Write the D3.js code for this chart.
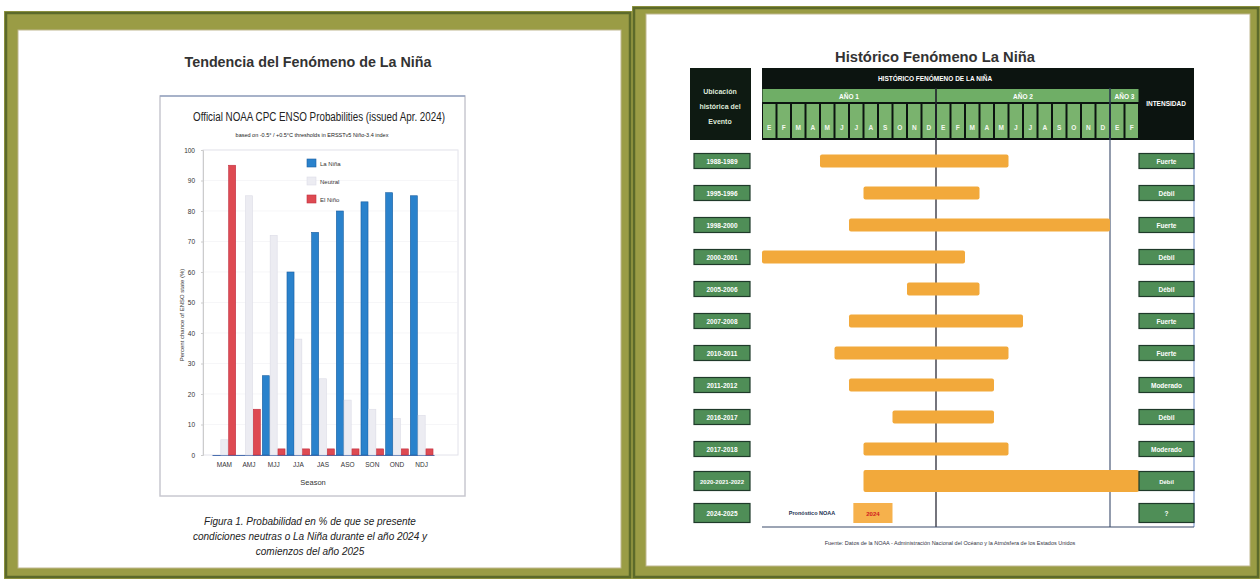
<!DOCTYPE html>
<html>
<head>
<meta charset="utf-8">
<script src="https://cdn.jsdelivr.net/npm/d3@7"></script>
<style>
  body { margin: 0; background: #fff; }
  svg { display: block; font-family: "Liberation Sans", Arial, sans-serif; }
</style>
</head>
<body>
<svg id="chart" width="1260" height="581"></svg>
<script>
// ---- left chart data (CPC ENSO probabilities, issued Apr. 2024)
const seasons = ["MAM", "AMJ", "MJJ", "JJA", "JAS", "ASO", "SON", "OND", "NDJ"];
const seriesNames = ["La Niña", "Neutral", "El Niño"];
const laNina  = [0, 0, 26, 60, 73, 80, 83, 86, 85];
const neutral = [5, 85, 72, 38, 25, 18, 15, 12, 13];
const elNino  = [95, 15, 2, 2, 2, 2, 2, 2, 2];
const yTicks  = [0, 10, 20, 30, 40, 50, 60, 70, 80, 90, 100];

// ---- right chart data (historical La Niña events, months from Jan of year 1)
const events      = ["1988-1989", "1995-1996", "1998-2000", "2000-2001", "2005-2006", "2007-2008",
                     "2010-2011", "2011-2012", "2016-2017", "2017-2018", "2020-2021-2022", "2024-2025"];
const eventStart  = [4, 7, 6, 0, 10, 6, 5, 6, 9, 7, 7, 6.3];
const eventEnd    = [17, 15, 24, 14, 15, 18, 17, 16, 16, 17, 26, 9];
const intensities = ["Fuerte", "Débil", "Fuerte", "Débil", "Débil", "Fuerte", "Fuerte", "Moderado",
                     "Débil", "Moderado", "Débil", "?"];
const monthLetters = ["E","F","M","A","M","J","J","A","S","O","N","D",
                      "E","F","M","A","M","J","J","A","S","O","N","D","E","F"];
const yearNames = ["AÑO 1", "AÑO 2", "AÑO 3"];
const yearStarts = [0, 12, 24];
const yearEnds = [12, 24, 26];

const svg = d3.select("#chart");

// frames
function panel(x, y, w, h, ix, iy, iw, ih) {
    svg.append("rect").attr("x", x).attr("y", y).attr("width", w).attr("height", h)
        .attr("fill", "#9a9c45");
    svg.append("rect").attr("x", x + 2).attr("y", y + 2).attr("width", w - 4).attr("height", h - 4)
        .attr("fill", "none").attr("stroke", "#5c6a2a").attr("stroke-width", 2.5);
    svg.append("rect").attr("x", ix).attr("y", iy).attr("width", iw).attr("height", ih)
        .attr("fill", "#fff").attr("stroke", "#c0b890").attr("stroke-width", 1);
}
panel(4, 11, 628, 568, 18, 30, 603, 538);
panel(632, 6, 628, 573, 646, 14, 604, 552);

// ================= LEFT =================
svg.append("text").attr("x", 308).attr("y", 67).attr("text-anchor", "middle")
    .attr("font-size", 15).attr("fill", "#333").attr("font-weight", "bold")
    .attr("textLength", 247).attr("lengthAdjust", "spacingAndGlyphs")
    .text("Tendencia del Fenómeno de La Niña");

// chart image frame
svg.append("rect").attr("x", 160).attr("y", 96).attr("width", 305).attr("height", 400)
    .attr("fill", "#fff").attr("stroke", "#c8c8d0").attr("stroke-width", 1.5);
svg.append("line").attr("x1", 160).attr("x2", 465).attr("y1", 96).attr("y2", 96)
    .attr("stroke", "#7a90b8").attr("stroke-width", 1.2);

svg.append("text").attr("x", 319).attr("y", 121).attr("text-anchor", "middle")
    .attr("font-size", 12.5).attr("fill", "#222")
    .attr("textLength", 252).attr("lengthAdjust", "spacingAndGlyphs")
    .text("Official NOAA CPC ENSO Probabilities (issued Apr. 2024)");
svg.append("text").attr("x", 312).attr("y", 137).attr("text-anchor", "middle")
    .attr("font-size", 5.5).attr("fill", "#222")
    .text("based on -0.5° / +0.5°C thresholds in ERSSTv5 Niño-3.4 index");

const x0 = d3.scaleBand().domain(seasons).range([212, 434]);
const x1 = d3.scaleBand().domain(seriesNames).range([x0.bandwidth() * 0.04, x0.bandwidth() * 0.96]).paddingInner(0.1);
const y = d3.scaleLinear().domain([0, 100]).range([455, 150]);

// plot frame
svg.append("rect").attr("x", 203).attr("y", 150).attr("width", 255).attr("height", 305)
    .attr("fill", "none").attr("stroke", "#e2e2ea").attr("stroke-width", 1);
svg.append("g").selectAll("line").data(yTicks.slice(1)).join("line")
    .attr("x1", 203).attr("x2", 458).attr("y1", d => y(d)).attr("y2", d => y(d))
    .attr("stroke", "#f0f0f4").attr("stroke-width", 0.6);

const yAxis = svg.append("g").attr("transform", "translate(203,0)")
    .call(d3.axisLeft(y).tickValues(yTicks).tickSize(2).tickPadding(6));
yAxis.select(".domain").attr("stroke", "#ccc");
yAxis.selectAll("text").attr("font-size", 6.5).attr("fill", "#333");
yAxis.selectAll(".tick line").attr("stroke", "#ccc");

const xAxis = svg.append("g").attr("transform", "translate(0,455)")
    .call(d3.axisBottom(x0).tickSize(0).tickPadding(7));
xAxis.select(".domain").attr("stroke", "#4a6fb0").attr("stroke-width", 1.2);
xAxis.selectAll("text").attr("font-size", 6.5).attr("fill", "#333");

svg.append("text").attr("x", 313).attr("y", 485).attr("text-anchor", "middle")
    .attr("font-size", 7.5).attr("fill", "#333").text("Season");
svg.append("text").attr("transform", "translate(184,315) rotate(-90)").attr("text-anchor", "middle")
    .attr("font-size", 6).attr("fill", "#333").text("Percent chance of ENSO state (%)");

const colors = { "La Niña": "#2a82cc", "Neutral": "#ececf2", "El Niño": "#de4a52" };
const strokes = { "La Niña": "#1b5fa0", "Neutral": "#dcdce6", "El Niño": "#c03040" };
const barRows = seasons.map((s, i) => ({ season: s, values: [laNina[i], neutral[i], elNino[i]] }));
svg.append("g").selectAll("g").data(barRows).join("g")
    .attr("transform", d => `translate(${x0(d.season)},0)`)
    .selectAll("rect").data(d => seriesNames.map((n, k) => ({ name: n, value: d.values[k] }))).join("rect")
    .attr("x", d => x1(d.name)).attr("width", x1.bandwidth())
    .attr("y", d => y(d.value)).attr("height", d => y(0) - y(d.value))
    .attr("fill", d => colors[d.name]).attr("stroke", d => strokes[d.name]).attr("stroke-width", 0.6);

// legend
const legend = svg.append("g").attr("transform", "translate(307,159)");
seriesNames.forEach((n, i) => {
    legend.append("rect").attr("x", 0).attr("y", i * 18).attr("width", 9).attr("height", 8)
        .attr("fill", colors[n]).attr("stroke", strokes[n]).attr("stroke-width", 0.6);
    legend.append("text").attr("x", 13).attr("y", i * 18 + 7).attr("font-size", 6).attr("fill", "#333").text(n);
});

// caption
const caption = ["Figura 1. Probabilidad en % de que se presente",
                 "condiciones neutras  o  La Niña durante el año 2024 y",
                 "comienzos del año 2025"];
svg.append("g").selectAll("text").data(caption).join("text")
    .attr("x", 310).attr("y", (d, i) => 525 + i * 15).attr("text-anchor", "middle")
    .attr("font-size", 10).attr("font-style", "italic").attr("fill", "#222")
    .text(d => d);

// ================= RIGHT =================
svg.append("text").attr("x", 935).attr("y", 62).attr("text-anchor", "middle")
    .attr("font-size", 15).attr("font-weight", "bold").attr("fill", "#333")
    .attr("textLength", 200).attr("lengthAdjust", "spacingAndGlyphs")
    .text("Histórico Fenómeno La Niña");

const xm = d3.scaleLinear().domain([0, 26]).range([762, 1139]);
const yr = d3.scaleBand().domain(events).range([145, 529]);

// header blocks
svg.append("rect").attr("x", 690).attr("y", 68).attr("width", 61).attr("height", 72).attr("fill", "#0e1a12");
["Ubicación", "histórica del", "Evento"].forEach((t, i) => {
    svg.append("text").attr("x", 720).attr("y", 94 + i * 15).attr("text-anchor", "middle")
        .attr("font-size", 7).attr("font-weight", "bold").attr("fill", "#dfe9d8").text(t);
});
svg.append("rect").attr("x", 762).attr("y", 68).attr("width", 432).attr("height", 72).attr("fill", "#0c1410");
svg.append("text").attr("x", 935).attr("y", 81).attr("text-anchor", "middle")
    .attr("font-size", 6.5).attr("font-weight", "bold").attr("fill", "#fff")
    .text("HISTÓRICO FENÓMENO  DE LA NIÑA");
svg.append("text").attr("x", 1166).attr("y", 106).attr("text-anchor", "middle")
    .attr("font-size", 6.5).attr("font-weight", "bold").attr("fill", "#fff").text("INTENSIDAD");

const years = yearNames.map((n, i) => ({ name: n, s: yearStarts[i], e: yearEnds[i] }));
svg.append("g").selectAll("rect").data(years).join("rect")
    .attr("x", d => xm(d.s) + 0.5).attr("y", 89).attr("width", d => xm(d.e) - xm(d.s) - 1).attr("height", 13)
    .attr("fill", "#6fae66");
svg.append("g").selectAll("text").data(years).join("text")
    .attr("x", d => (xm(d.s) + xm(d.e)) / 2).attr("y", 98.5).attr("text-anchor", "middle")
    .attr("font-size", 6.5).attr("font-weight", "bold").attr("fill", "#fff").text(d => d.name);

svg.append("g").selectAll("rect").data(monthLetters).join("rect")
    .attr("x", (d, i) => xm(i) + 1).attr("y", 104).attr("width", xm(1) - xm(0) - 2).attr("height", 34)
    .attr("fill", "#7ab36e");
svg.append("g").selectAll("text").data(monthLetters).join("text")
    .attr("x", (d, i) => xm(i + 0.5)).attr("y", 130).attr("text-anchor", "middle")
    .attr("font-size", 6.5).attr("font-weight", "bold").attr("fill", "#f4f8ef").text(d => d);

// grid lines
svg.append("line").attr("x1", xm(12)).attr("x2", xm(12)).attr("y1", 88).attr("y2", 527)
    .attr("stroke", "#2a2a36").attr("stroke-width", 1.3);
svg.append("line").attr("x1", xm(24)).attr("x2", xm(24)).attr("y1", 88).attr("y2", 527)
    .attr("stroke", "#3a4a6a").attr("stroke-width", 1.1);
svg.append("line").attr("x1", 1194).attr("x2", 1194).attr("y1", 140).attr("y2", 527)
    .attr("stroke", "#6a8ac8").attr("stroke-width", 1);
svg.append("line").attr("x1", 762).attr("x2", 1194).attr("y1", 527).attr("y2", 527)
    .attr("stroke", "#3a4a6a").attr("stroke-width", 1.2);

// event bars
const rows = events.map((e, i) => ({ name: e, s: eventStart[i], e: eventEnd[i], k: intensities[i], i }));
svg.append("g").selectAll("rect").data(rows.slice(0, 11)).join("rect")
    .attr("x", d => xm(d.s)).attr("width", d => xm(d.e) - xm(d.s))
    .attr("y", d => yr(d.name) + yr.bandwidth() / 2 - (d.i === 10 ? 11 : 6.5))
    .attr("height", d => d.i === 10 ? 22 : 13)
    .attr("rx", 2).attr("fill", "#f2a93b");
// forecast
const last = rows[11];
const ly = yr(last.name) + yr.bandwidth() / 2;
svg.append("rect").attr("x", xm(last.s)).attr("width", xm(last.e) - xm(last.s))
    .attr("y", ly - 10).attr("height", 20).attr("fill", "#f6b14c");
svg.append("text").attr("x", (xm(last.s) + xm(last.e)) / 2).attr("y", ly + 3).attr("text-anchor", "middle")
    .attr("font-size", 6).attr("font-weight", "bold").attr("fill", "#d02020").text("2024");
svg.append("text").attr("x", 812).attr("y", ly + 2).attr("text-anchor", "middle")
    .attr("font-size", 5.5).attr("font-weight", "bold").attr("fill", "#203050").text("Pronóstico NOAA");

// row labels & intensity boxes
function tag(x, w, d, text) {
    const h = d.i >= 10 ? 19 : 15;
    const cy = yr(d.name) + yr.bandwidth() / 2;
    svg.append("rect").attr("x", x).attr("y", cy - h / 2).attr("width", w).attr("height", h)
        .attr("fill", "#4f8e57").attr("stroke", "#1f3a2a").attr("stroke-width", 1.2);
    svg.append("text").attr("x", x + w / 2).attr("y", cy + 2.5).attr("text-anchor", "middle")
        .attr("font-size", d.i === 10 ? 6 : 6.5).attr("font-weight", "bold").attr("fill", "#fff").text(text);
}
rows.forEach(d => {
    tag(694, 56, d, d.name);
    tag(1139, 55, d, d.k);
});

svg.append("text").attr("x", 950).attr("y", 545).attr("text-anchor", "middle")
    .attr("font-size", 5.5).attr("fill", "#334").text("Fuente: Datos de la NOAA - Administración Nacional del Océano y la Atmósfera de los Estados Unidos");
</script>
</body>
</html>
